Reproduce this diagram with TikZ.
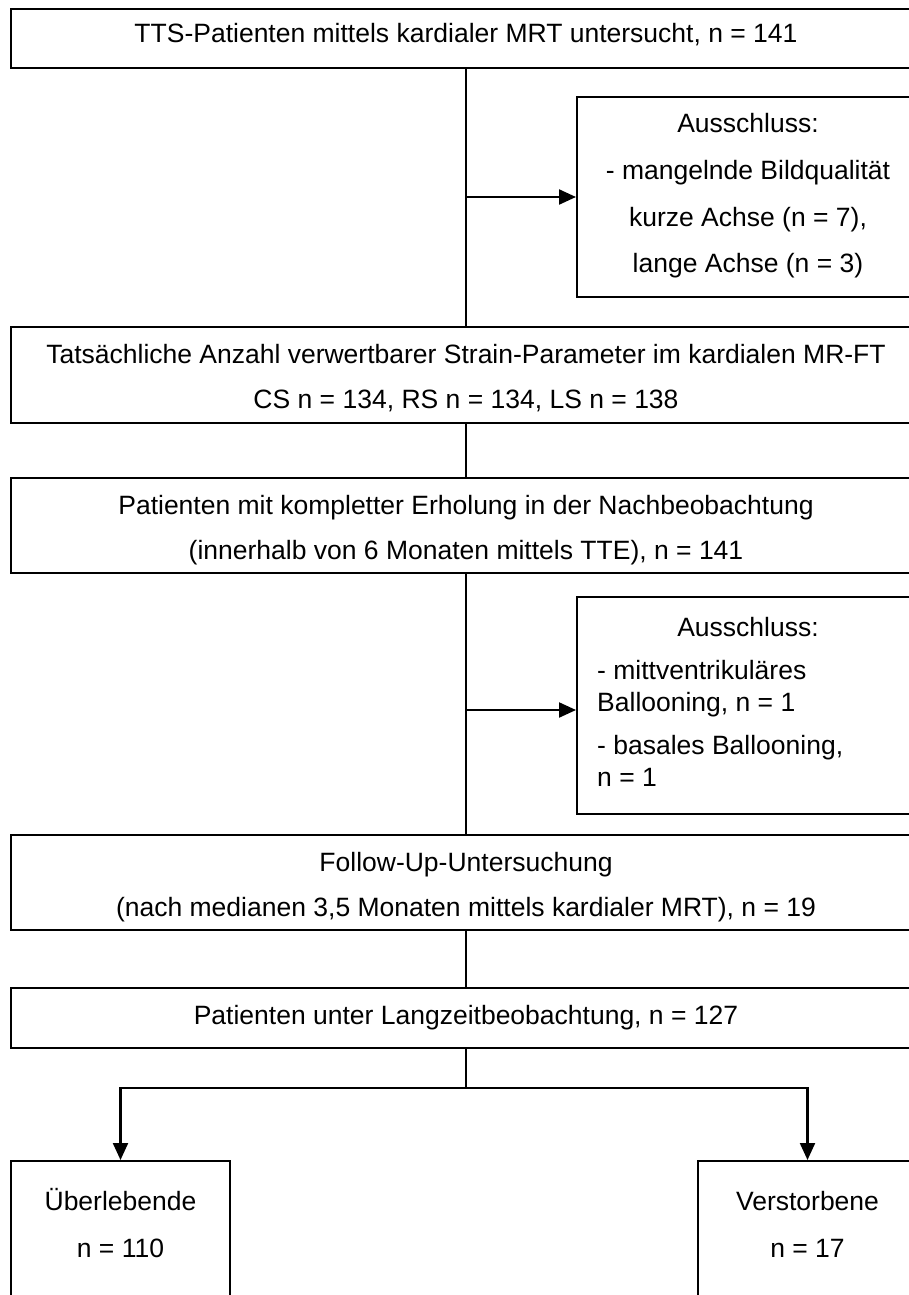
\documentclass[tikz,border=0pt]{standalone}
\usepackage{fontspec}
\setmainfont{Liberation Sans}
\usetikzlibrary{arrows.meta}
\begin{document}
\begin{tikzpicture}[x=1pt,y=-1pt,
  box/.style={draw=black, line width=2pt, rectangle, inner sep=0pt},
  txt/.style={anchor=base, inner sep=0pt, font=\fontsize{26.5}{32}\selectfont},
  ltxt/.style={txt, anchor=base west},
  conn/.style={line width=1.4pt},
  arr/.style={line width=2.2pt, -{Triangle[length=17pt,width=15pt]}}]
\useasboundingbox[fill=white] (0,0) rectangle (908,1295);

% main column boxes
\node[box, minimum width=910pt, minimum height=59pt] (b1) at (466,38.5) {};
\node[txt] (t1) at (466,42.5) {TTS-Patienten mittels kardialer MRT untersucht, n = 141};

\node[box, minimum width=342pt, minimum height=200pt] (e1) at (748,197) {};
\node[txt] (e1a) at (748,132.5) {Ausschluss:};
\node[txt] (e1b) at (748,179.5) {- mangelnde Bildqualität};
\node[txt] (e1c) at (748,226.5) {kurze Achse (n = 7),};
\node[txt] (e1d) at (748,272.5) {lange Achse (n = 3)};

\node[box, minimum width=910pt, minimum height=96pt] (b2) at (466,375) {};
\node[txt] (t2a) at (466,363.5) {Tatsächliche Anzahl verwertbarer Strain-Parameter im kardialen MR-FT};
\node[txt] (t2b) at (466,408.5) {CS n = 134, RS n = 134, LS n = 138};

\node[box, minimum width=910pt, minimum height=95pt] (b3) at (466,525.5) {};
\node[txt] (t3a) at (466,514.5) {Patienten mit kompletter Erholung in der Nachbeobachtung};
\node[txt] (t3b) at (466,559.5) {(innerhalb von 6 Monaten mittels TTE), n = 141};

\node[box, minimum width=342pt, minimum height=217pt] (e2) at (748,705.5) {};
\node[txt] (e2a) at (748,636.5) {Ausschluss:};
\node[ltxt] (e2b) at (597,679.5) {- mittventrikuläres};
\node[ltxt] (e2c) at (597,711.5) {Ballooning, n = 1};
\node[ltxt] (e2d) at (597,754.5) {- basales Ballooning,};
\node[ltxt] (e2e) at (597,786.5) {n = 1};

\node[box, minimum width=910pt, minimum height=95pt] (b4) at (466,882.5) {};
\node[txt] (t4a) at (466,871.5) {Follow-Up-Untersuchung};
\node[txt] (t4b) at (466,916.5) {(nach medianen 3,5 Monaten mittels kardialer MRT), n = 19};

\node[box, minimum width=910pt, minimum height=60pt] (b5) at (466,1018) {};
\node[txt] (t5) at (466,1024.5) {Patienten unter Langzeitbeobachtung, n = 127};

\node[box, minimum width=219pt, minimum height=160pt] (s1) at (120.5,1241) {};
\node[txt] (s1a) at (120.5,1210.5) {Überlebende};
\node[txt] (s1b) at (120.5,1257.5) {n = 110};

\node[box, minimum width=219pt, minimum height=160pt] (s2) at (807.5,1241) {};
\node[txt] (s2a) at (807.5,1210.5) {Verstorbene};
\node[txt] (s2b) at (807.5,1257.5) {n = 17};

% connectors
\coordinate (j1) at (466,197);
\coordinate (j2) at (466,710);
\coordinate (j3) at (466,1088);

\draw[conn] (b1.south) -- (b2.north);
\draw[arr] (j1) -- (e1.west);
\draw[conn] (b2.south) -- (b3.north);
\draw[conn] (b3.south) -- (b4.north);
\draw[arr] (j2) -- (j2 -| e2.west);
\draw[conn] (b4.south) -- (b5.north);
\draw[conn] (b5.south) -- (j3);
\draw[arr] (j3) -| (s1.north);
\draw[arr] (j3) -| (s2.north);
\end{tikzpicture}
\end{document}
